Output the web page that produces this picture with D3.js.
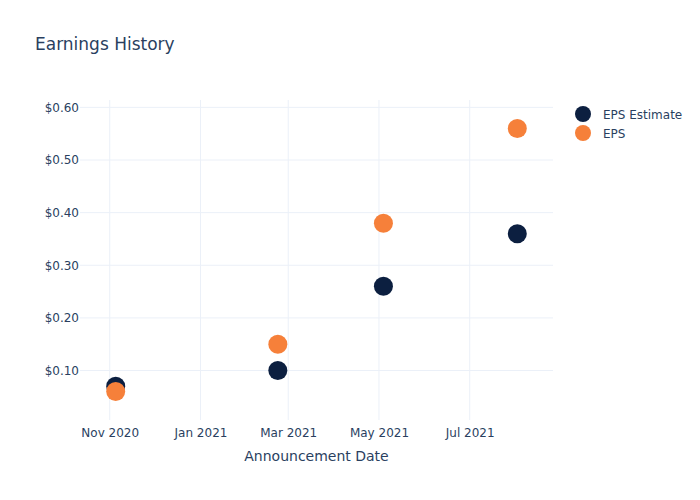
<!DOCTYPE html>
<html><head><meta charset="utf-8">
<script src="https://cdn.jsdelivr.net/npm/d3@7"></script>
<style>body{margin:0;background:#fff;} svg{font-family:"DejaVu Sans", sans-serif;}</style>
</head><body><svg id="c" width="700" height="500"></svg>
<script>
const dates = ["2020-11-05", "2021-02-22", "2021-05-04", "2021-08-02"];
const epsEstimate = [0.07, 0.10, 0.26, 0.36];
const eps = [0.06, 0.15, 0.38, 0.56];
const xTicks = ["2020-11-01", "2021-01-01", "2021-03-01", "2021-05-01", "2021-07-01"];
const yTicks = [0.10, 0.20, 0.30, 0.40, 0.50, 0.60];
const seriesNames = ["EPS Estimate", "EPS"];
const colors = ["#0c1f40", "#f6803a"];

const parse = d3.utcParse("%Y-%m-%d");
const svg = d3.select("#c");
const L = 80, R = 553, T = 100, B = 420;
const x = d3.scaleUtc().domain([parse("2020-10-12"), parse("2021-08-26")]).range([L, R]);
const y = d3.scaleLinear().domain([0.006, 0.614]).range([B, T]);
const textCol = "#2a3f5f", gridCol = "#ebf0f8";
const ff = "DejaVu Sans, sans-serif";

// grid
svg.append("g").selectAll("line").data(xTicks).join("line")
  .attr("x1", d => x(parse(d))).attr("x2", d => x(parse(d)))
  .attr("y1", T).attr("y2", B).attr("stroke", gridCol).attr("stroke-width", 1);
svg.append("g").selectAll("line").data(yTicks).join("line")
  .attr("x1", L).attr("x2", R).attr("y1", d => y(d)).attr("y2", d => y(d))
  .attr("stroke", gridCol).attr("stroke-width", 1);

// axes
const xAxis = d3.axisBottom(x).tickValues(xTicks.map(parse)).tickFormat(d3.utcFormat("%b %Y")).tickSize(0).tickPadding(8);
const gx = svg.append("g").attr("transform", `translate(0,${B})`).call(xAxis);
gx.select(".domain").remove();
gx.selectAll("text").attr("fill", textCol).attr("font-size", 12).attr("font-family", ff);

const yAxis = d3.axisLeft(y).tickValues(yTicks).tickFormat(d => "$" + d.toFixed(2)).tickSize(0).tickPadding(1);
const gy = svg.append("g").attr("transform", `translate(${L},0)`).call(yAxis);
gy.select(".domain").remove();
gy.selectAll("text").attr("fill", textCol).attr("font-size", 12).attr("font-family", ff);

// points
const series = [epsEstimate, eps];
series.forEach((vals, i) => {
  svg.append("g").selectAll("circle").data(vals).join("circle")
    .attr("cx", (d, j) => x(parse(dates[j]))).attr("cy", d => y(d))
    .attr("r", 9.5).attr("fill", colors[i]);
});

// title
svg.append("text").attr("x", 35).attr("y", 50).text("Earnings History")
  .attr("fill", textCol).attr("font-size", 17);
svg.append("text").attr("x", (L + R) / 2).attr("y", 461).attr("text-anchor", "middle")
  .text("Announcement Date").attr("fill", textCol).attr("font-size", 14);

// legend
const lg = svg.append("g");
seriesNames.forEach((n, i) => {
  lg.append("circle").attr("cx", 583).attr("cy", 114 + i * 19).attr("r", 8).attr("fill", colors[i]);
  lg.append("text").attr("x", 603).attr("y", 118.5 + i * 19).text(n).attr("fill", textCol).attr("font-size", 12);
});
</script></body></html>
